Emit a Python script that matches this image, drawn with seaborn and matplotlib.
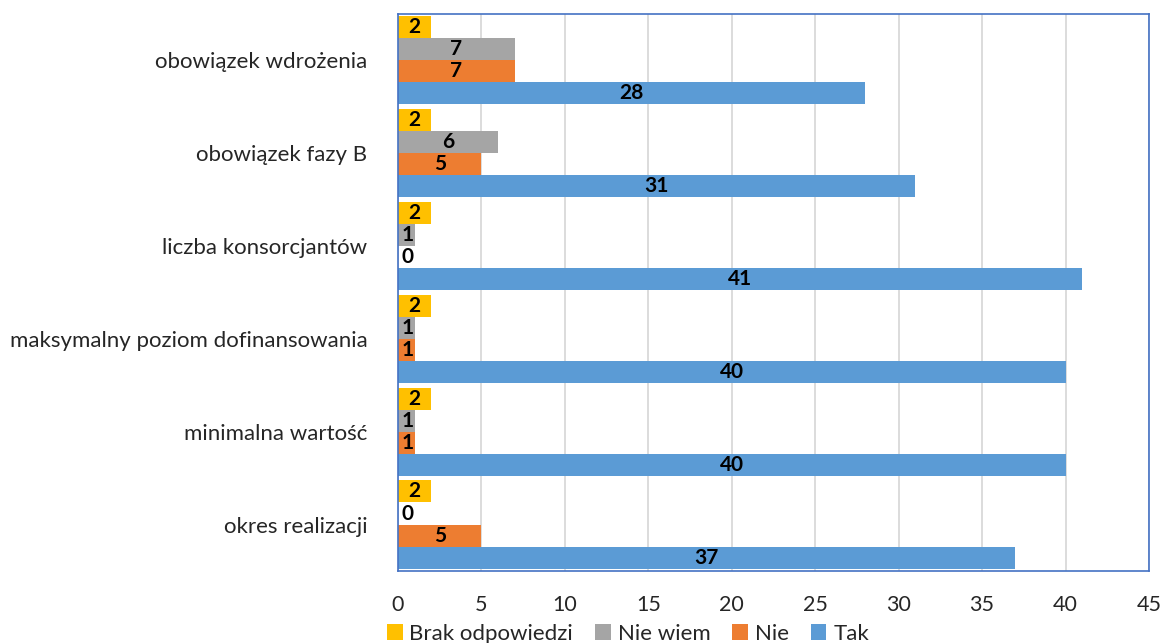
import matplotlib
matplotlib.use("Agg")
import matplotlib.pyplot as plt
import seaborn as sns
import pandas as pd

categories = [
    "obowiązek wdrożenia",
    "obowiązek fazy B",
    "liczba konsorcjantów",
    "maksymalny poziom dofinansowania",
    "minimalna wartość",
    "okres realizacji",
]
series_names = ["Brak odpowiedzi", "Nie wiem", "Nie", "Tak"]
brak = [2, 2, 2, 2, 2, 2]
nie_wiem = [7, 6, 1, 1, 1, 0]
nie = [7, 5, 0, 1, 1, 5]
tak = [28, 31, 41, 40, 40, 37]
x_ticks = [0, 5, 10, 15, 20, 25, 30, 35, 40, 45]
colors = ["#FFC000", "#A5A5A5", "#ED7D31", "#5B9BD5"]

rows = []
for name, vals in zip(series_names, [brak, nie_wiem, nie, tak]):
    for cat, v in zip(categories, vals):
        rows.append({"kategoria": cat, "odpowiedź": name, "liczba": v})
df = pd.DataFrame(rows)

sns.set_theme(style="white")
plt.rcParams["font.family"] = ["Lato", "DejaVu Sans"]

fig = plt.figure(figsize=(11.66, 6.43), dpi=100)
ax = fig.add_axes([0.3413, 0.112, 0.6441, 0.8665])

sns.barplot(
    data=df, y="kategoria", x="liczba", hue="odpowiedź",
    order=categories, hue_order=series_names, palette=colors,
    orient="h", width=0.95, gap=0, saturation=1, linewidth=0,
    ax=ax, legend=True,
)

ax.set_xlim(0, 45)
ax.set_xticks(x_ticks)
ax.set_xticklabels([str(t) for t in x_ticks], fontsize=15.5)
ax.tick_params(axis="x", pad=17, length=0)
ax.tick_params(axis="y", length=0, pad=22, labelsize=16)
ax.set_xlabel("")
ax.set_ylabel("")
ax.xaxis.grid(True, color="#D9D9D9", linewidth=1.3)
ax.set_axisbelow(True)
for s in ax.spines.values():
    s.set_color("#4472C4")
    s.set_linewidth(1.2)

# value labels centred in each bar, nudged off the axis for tiny bars
for container in ax.containers:
    for bar in container:
        v = bar.get_width()
        xc = max(v / 2, 0.6)
        yc = bar.get_y() + bar.get_height() / 2
        ax.text(xc, yc, f"{int(round(v))}", ha="center", va="center",
                fontsize=15, fontweight="bold", color="black")

handles, labels = ax.get_legend_handles_labels()
ax.get_legend().remove()
fig.legend(
    handles, labels, loc="center", bbox_to_anchor=(0.5386, 0.014), ncol=4,
    frameon=False, fontsize=16, handlelength=0.7, handleheight=0.7,
    handletextpad=0.3, columnspacing=1.0, borderaxespad=0, borderpad=0,
)

fig.savefig("out.png", dpi=100)
